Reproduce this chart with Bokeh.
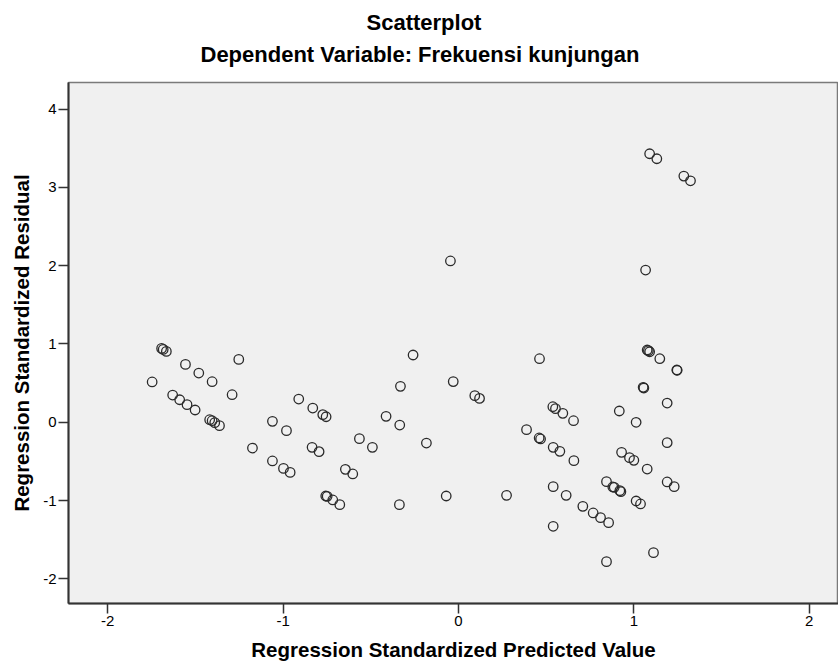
from bokeh.plotting import figure
from bokeh.models import Range1d, FixedTicker, Title, ColumnDataSource
from bokeh.embed import file_html
from bokeh.resources import INLINE

# Data
pred = [-1.747, -1.693, -1.684, -1.666, -1.630, -1.590, -1.557, -1.548, -1.502, -1.481,
        -1.419, -1.405, -1.405, -1.390, -1.363, -1.291, -1.253, -1.175, -1.061, -1.061,
        -0.998, -0.981, -0.960, -0.911, -0.835, -0.831, -0.795, -0.774, -0.755, -0.757,
        -0.749, -0.717, -0.677, -0.645, -0.603, -0.565, -0.491, -0.413, -0.335, -0.331,
        -0.337, -0.259, -0.183, -0.070, -0.046, -0.030, 0.093, 0.120, 0.274, 0.388,
        0.460, 0.468, 0.462, 0.538, 0.553, 0.540, 0.540, 0.540, 0.578, 0.595,
        0.614, 0.656, 0.658, 0.709, 0.768, 0.810, 0.844, 0.844, 0.856, 0.880,
        0.888, 0.917, 0.920, 0.926, 0.930, 0.975, 1.000, 1.013, 1.013, 1.038,
        1.053, 1.057, 1.067, 1.076, 1.083, 1.090, 1.076, 1.090, 1.112, 1.131,
        1.148, 1.190, 1.190, 1.190, 1.230, 1.245, 1.247, 1.285, 1.323]
resid = [0.515, 0.943, 0.931, 0.905, 0.348, 0.288, 0.739, 0.225, 0.157, 0.629,
         0.033, 0.020, 0.518, -0.005, -0.043, 0.352, 0.803, -0.329, 0.012, -0.494,
         -0.589, -0.107, -0.640, 0.297, -0.320, 0.182, -0.375, 0.097, 0.071, -0.941,
         -0.946, -0.992, -1.052, -0.601, -0.660, -0.209, -0.320, 0.076, -0.035, 0.459,
         -1.052, 0.859, -0.265, -0.941, 2.060, 0.520, 0.340, 0.305, -0.933, -0.094,
         -0.200, -0.213, 0.812, 0.199, 0.174, -0.320, -0.822, -1.328, -0.371, 0.114,
         -0.933, 0.020, -0.490, -1.073, -1.158, -1.218, -0.758, -1.780, -1.282, -0.826,
         -0.831, 0.144, -0.873, -0.886, -0.384, -0.452, -0.486, 0.000, -1.005, -1.043,
         0.446, 0.438, 1.944, 0.923, 0.915, 0.901, -0.597, 3.429, -1.665, 3.365,
         0.812, 0.246, -0.260, -0.762, -0.822, 0.668, 0.664, 3.144, 3.084]

x_ticks = [-2, -1, 0, 1, 2]
x_tick_labels = ["-2", "-1", "0", "1", "2"]
y_ticks = [-2, -1, 0, 1, 2, 3, 4]
y_tick_labels = ["-2", "-1", "0", "1", "2", "3", "4"]

title_text = "Scatterplot"
subtitle_text = "Dependent Variable: Frekuensi kunjungan"
x_label = "Regression Standardized Predicted Value"
y_label = "Regression Standardized Residual"

FONT = "Liberation Sans"

p = figure(width=838, height=669, output_backend="svg", toolbar_location=None,
           title=None,
           x_range=Range1d(-2.224, 2.167), y_range=Range1d(-2.314, 4.339),
           min_border_left=68, min_border_right=0, min_border_top=82,
           min_border_bottom=66)

p.add_layout(Title(text=subtitle_text, align="left", offset=132,
                   text_font=FONT, text_font_size="22px", text_font_style="bold",
                   text_color="#000000", standoff=32), "above")
p.add_layout(Title(text=title_text, align="left", offset=298,
                   text_font=FONT, text_font_size="22px", text_font_style="bold",
                   text_color="#000000", standoff=-22), "above")

p.background_fill_color = "#F0F0F0"
p.border_fill_color = "#FFFFFF"
p.outline_line_color = "#7a7a7a"
p.outline_line_width = 1.5
p.xgrid.visible = False
p.ygrid.visible = False

for ax in (p.xaxis[0], p.yaxis[0]):
    ax.axis_line_color = "#333333"
    ax.axis_line_width = 2
    ax.major_tick_line_color = "#333333"
    ax.major_tick_line_width = 1.5
    ax.major_tick_out = 10
    ax.major_tick_in = 0
    ax.minor_tick_line_color = None
    ax.major_label_text_font = FONT
    ax.major_label_text_font_size = "15px"
    ax.major_label_text_color = "#000000"
    ax.axis_label_text_font = FONT
    ax.axis_label_text_font_size = "20.5px"
    ax.axis_label_text_font_style = "bold"
    ax.axis_label_text_color = "#000000"

p.xaxis[0].ticker = FixedTicker(ticks=x_ticks)
p.yaxis[0].ticker = FixedTicker(ticks=y_ticks)
p.xaxis[0].major_label_overrides = dict(zip(x_ticks, x_tick_labels))
p.yaxis[0].major_label_overrides = dict(zip(y_ticks, y_tick_labels))
p.xaxis[0].axis_label = x_label
p.yaxis[0].axis_label = y_label
p.xaxis[0].major_label_standoff = 2
p.yaxis[0].major_label_standoff = 2
p.xaxis[0].axis_label_standoff = 9
p.yaxis[0].axis_label_standoff = 7

src = ColumnDataSource(data=dict(x=pred, y=resid))
p.scatter("x", "y", source=src, marker="circle", size=9.5,
          fill_color=None, line_color="#2a2a2a", line_width=1.3)

open("out.html", "w").write(file_html(p, INLINE))
